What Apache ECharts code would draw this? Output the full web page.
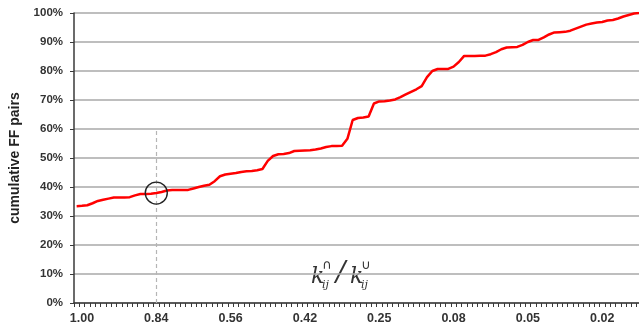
<!DOCTYPE html>
<html>
<head>
<meta charset="utf-8">
<script src="https://cdn.jsdelivr.net/npm/echarts@6/dist/echarts.min.js"></script>
<style>
html,body{margin:0;padding:0;background:#fff;}
#chart{width:639px;height:334px;}
</style>
</head>
<body>
<div id="chart"></div>
<script>
// cumulative share of FF pairs (%) per category along the x axis
const values = [
  33.4, 33.5, 33.7, 34.4, 35.2, 35.6, 36.0, 36.4, 36.4, 36.4,
  36.5, 37.1, 37.6, 37.6, 37.7, 37.9, 38.3, 38.8, 39.0, 39.0,
  39.0, 39.0, 39.5, 40.0, 40.4, 40.8, 42.0, 43.7, 44.3, 44.6,
  44.8, 45.2, 45.4, 45.5, 45.8, 46.2, 49.0, 50.7, 51.3, 51.4,
  51.7, 52.4, 52.5, 52.6, 52.7, 52.9, 53.3, 53.8, 54.1, 54.1,
  54.2, 56.6, 63.1, 63.8, 64.0, 64.3, 68.8, 69.5, 69.6, 69.8,
  70.2, 71.0, 71.9, 72.8, 73.7, 74.8, 77.9, 80.0, 80.7, 80.7,
  80.7, 81.5, 83.1, 85.2, 85.2, 85.2, 85.3, 85.3, 85.8, 86.5,
  87.5, 88.1, 88.2, 88.3, 89.0, 90.0, 90.7, 90.7, 91.6, 92.6,
  93.3, 93.4, 93.5, 93.9, 94.6, 95.3, 96.0, 96.4, 96.7, 96.9,
  97.4, 97.6, 98.1, 98.8, 99.3, 99.8, 100.0
];
// x tick labels and the category index each one sits on
const tickLabels = ['1.00', '0.84', '0.56', '0.42', '0.25', '0.08', '0.05', '0.02'];
const tickLabelIndex = [1, 15, 29, 43, 57, 71, 85, 99];
// highlighted category (0.84) and its value
const markIndex = 15;
const markValue = 37.9;
const markLineTop = 60;

const categories = values.map((_, i) => {
  const k = tickLabelIndex.indexOf(i);
  return k >= 0 ? tickLabels[k] : '';
});

const chart = echarts.init(document.getElementById('chart'), null, {renderer: 'canvas'});
const labelFont = '"Liberation Sans", Arial, sans-serif';

chart.setOption({
  animation: false,
  backgroundColor: '#ffffff',
  grid: {left: 74, top: 13, width: 568, bottom: 31, containLabel: false, outerBoundsMode: 'none'},
  xAxis: {
    type: 'category',
    data: categories,
    boundaryGap: true,
    axisLine: {show: true, lineStyle: {color: '#3a3a3a', width: 1.5}},
    axisTick: {show: true, interval: 0, length: 4, lineStyle: {color: '#3a3a3a', width: 1}},
    axisLabel: {
      interval: (i) => tickLabelIndex.indexOf(i) >= 0,
      margin: 9,
      color: '#333',
      fontFamily: labelFont,
      fontWeight: 'bold',
      fontSize: 12.5
    },
    splitLine: {show: false}
  },
  yAxis: {
    type: 'value',
    min: 0,
    max: 100,
    interval: 10,
    name: 'cumulative FF pairs',
    nameLocation: 'middle',
    nameGap: 52,
    nameTextStyle: {color: '#222', fontFamily: labelFont, fontWeight: 'bold', fontSize: 14},
    axisLine: {show: true, lineStyle: {color: '#3a3a3a', width: 1.5}},
    axisTick: {show: true, length: 4, lineStyle: {color: '#3a3a3a'}},
    axisLabel: {
      formatter: '{value}%',
      margin: 11,
      color: '#333',
      fontFamily: labelFont,
      fontWeight: 'bold',
      fontSize: 11.5
    },
    splitLine: {show: true, lineStyle: {color: '#a8a8a8', width: 1.6}}
  },
  series: [{
    type: 'line',
    data: values,
    showSymbol: false,
    symbol: 'none',
    lineStyle: {color: '#ff0000', width: 2.5},
    z: 3,
    markLine: {
      silent: true,
      symbol: 'none',
      label: {show: false},
      lineStyle: {color: '#b5b5b5', type: [4, 3], width: 1.2},
      data: [[{coord: [markIndex, 0]}, {coord: [markIndex, markLineTop]}]],
      z: 2
    },
    markPoint: {
      silent: true,
      symbol: 'circle',
      symbolSize: 22,
      label: {show: false},
      itemStyle: {color: 'rgba(0,0,0,0)', borderColor: '#222', borderWidth: 1.4},
      data: [{coord: [markIndex, markValue]}]
    }
  }],
  graphic: [{
    type: 'group',
    left: 305,
    top: 259,
    children: [
      {type: 'rect', shape: {x: 0, y: 6, width: 76, height: 12}, style: {fill: '#ffffff'}},
      {type: 'text', x: 6, y: 10, style: {text: 'k', font: 'italic 22px "DejaVu Serif", serif', fill: '#333'}},
      {type: 'text', x: 17, y: 3, style: {text: '∩', font: '13px "DejaVu Sans", sans-serif', fill: '#333'}},
      {type: 'text', x: 17, y: 24, style: {text: 'ij', font: 'italic 11px "DejaVu Serif", serif', fill: '#333'}},
      {type: 'text', x: 31, y: 4, style: {text: '/', font: 'italic 28px "DejaVu Serif", serif', fill: '#333'}},
      {type: 'text', x: 45, y: 10, style: {text: 'k', font: 'italic 22px "DejaVu Serif", serif', fill: '#333'}},
      {type: 'text', x: 56, y: 3, style: {text: '∪', font: '13px "DejaVu Sans", sans-serif', fill: '#333'}},
      {type: 'text', x: 56, y: 24, style: {text: 'ij', font: 'italic 11px "DejaVu Serif", serif', fill: '#333'}}
    ]
  }]
});
</script>
</body>
</html>
